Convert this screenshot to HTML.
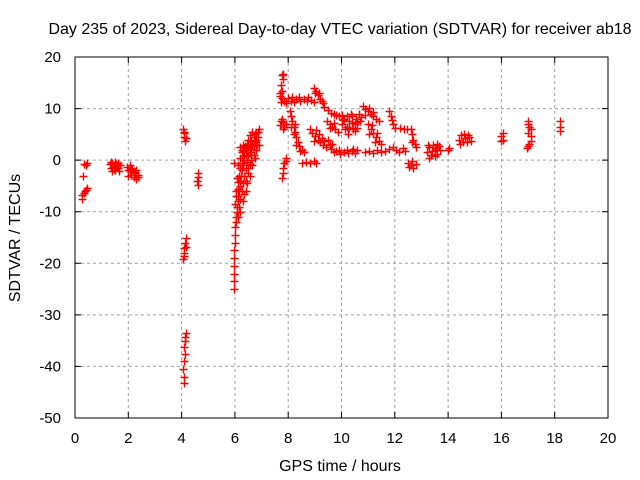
<!DOCTYPE html>
<html><head><meta charset="utf-8"><style>
body{margin:0;background:#fff}
svg{display:block;font-family:"Liberation Sans",sans-serif}
</style></head><body>
<svg id="chart" width="640" height="480">
<rect width="640" height="480" fill="#fff"/>
<text x="340" y="34" text-anchor="middle" font-size="16">Day 235 of 2023, Sidereal Day-to-day VTEC variation (SDTVAR) for receiver ab18</text>
<text x="340" y="471" text-anchor="middle" font-size="16">GPS time / hours</text>
<text transform="translate(20,238) rotate(-90)" text-anchor="middle" font-size="16">SDTVAR / TECUs</text>
<g id="grid"></g><g id="marks"></g>
<rect x="75" y="57" width="533" height="361" fill="none" stroke="#000" stroke-width="1"/>
</svg>
<script>
const xTicks=[0,2,4,6,8,10,12,14,16,18,20];
const yTicks=[20,10,0,-10,-20,-30,-40,-50];
const points=[
[0.35,-0.8],[0.42,-1],[0.45,-0.6],[0.3,-3],
[0.25,-7.5],[0.28,-6.8],[0.32,-6.3],[0.36,-6],[0.4,-5.7],[0.45,-5.4],
[1.3,-0.8],[1.35,-1.5],[1.4,-0.5],[1.45,-1.2],[1.5,-2],[1.55,-0.8],[1.6,-1.5],[1.65,-2.2],[1.4,-2.2],[1.5,-0.3],[1.7,-1],[1.35,-0.3],[1.45,-1.8],[1.6,-0.6],[1.55,-1.4],
[1.95,-1.3],[2.0,-2],[2.05,-1],[2.1,-2.8],[2.15,-1.8],[2.2,-3.2],[2.25,-2.3],[2.3,-3.6],[2.35,-2.8],[2.1,-1.5],[2.0,-3],[2.3,-1.9],[2.2,-2.5],[2.35,-3.3],[2.05,-2.2],
[4.05,6],[4.08,5.2],[4.1,4.5],[4.12,3.8],[4.15,4.2],[4.1,5.5],
[4.15,-15],[4.12,-16],[4.1,-17],[4.08,-18],[4.05,-19.2],[4.15,-16.8],[4.1,-18.6],
[4.15,-33.5],[4.12,-35],[4.1,-36.2],[4.12,-37.5],[4.08,-39],[4.05,-40.5],[4.08,-42],[4.1,-43.3],[4.14,-34.2],
[4.6,-2.5],[4.62,-3.3],[4.58,-4],[4.6,-4.8],
[5.95,-0.5],
[5.95,-25],[5.95,-23.5],[5.95,-22],[5.96,-20.5],[5.97,-19],[5.98,-17.5],[6.0,-16],[6.0,-14.5],[6.02,-13],[6.03,-12],[6.05,-11],[6.07,-10],[6.08,-9],[6.1,-8],[6.12,-7],[6.15,-6],[6.18,-5],[6.2,-4],[6.22,-3],[6.26,-2],[6.3,-1],[6.35,0],[6.4,1],[6.45,2],[6.5,2.5],[6.55,3.2],[6.6,3.8],[6.7,4.5],[6.8,5.2],[6.9,6],
[6.02,-8.5],[6.06,-7],[6.1,-5.5],[6.12,-4.3],[6.15,-3],[6.2,-1.6],[6.25,-0.5],[6.3,0.8],[6.35,1.8],[6.4,2.5],[6.25,2],[6.3,3],[6.2,2.5],[6.45,3.2],[6.15,-9],[6.2,-7.5],[6.25,-6],[6.3,-4.5],[6.35,-3],[6.4,-1.5],[6.45,-0.3],[6.5,0.8],[6.55,1.5],[6.6,2.2],[6.65,3],[6.75,3.6],[6.85,4.5],[6.5,-1.5],[6.6,0],[6.7,1],[6.8,2],[6.9,3],[6.1,-11],[6.2,-10],[6.3,-8],[6.4,-6],[6.45,-4.5],[6.55,-3],[6.65,-1],[6.75,0.5],
[6.05,-6],[6.08,-3.5],[6.12,-1],[6.18,0.5],[6.35,-6.5],[6.42,-4],[6.5,-2.5],[6.58,-0.8],[6.62,1],[6.7,2.8],[6.78,4],[6.85,5.5],[6.28,1.5],[6.38,2.8],[6.48,4],[6.55,4.8],[6.65,5.5],[6.75,5],[6.82,3],
[7.75,16.5],[7.8,15.8],[7.72,14.5],[7.75,13.5],[7.7,12.5],[7.78,12],[7.85,11.5],[7.9,11],[7.72,11.2],[7.8,16.8],[7.68,13],
[7.75,8],[7.8,7.3],[7.7,6.8],[7.85,6.5],[7.8,6],[7.9,7],[7.72,7.6],
[7.9,0.5],[7.85,-0.5],[7.82,-1.5],[7.8,-2.5],[7.78,-3.5],[7.9,-0.2],
[8.0,12],[8.15,12.3],[8.3,11.8],[8.45,11.5],[8.6,11.9],[8.75,12.2],[8.85,11.6],[8.95,11.3],[8.2,11.2],[8.1,11.5],[8.4,12.2],[8.7,11.4],
[8.05,9.5],[8.1,8.5],[8.15,7.5],[8.2,6.5],[8.25,5.5],[8.3,4.5],[8.35,3.5],[8.4,2.8],[8.5,2],[8.6,1.5],[8.1,6.5],[8.2,5],[8.3,3],[8.45,1.8],[8.25,7],
[8.5,-0.5],[8.65,-0.3],[8.8,-0.6],[8.95,-0.2],[9.05,-0.5],
[8.95,14],[9.05,13.5],[9.1,12.6],[9.2,11.8],[9.3,11],[9.35,10.4],[9.0,13],[9.15,13],[9.25,11.4],
[8.8,6],[8.9,5.3],[9.0,4.7],[9.1,4],[9.2,3.5],[9.3,3],[9.4,2.5],[8.95,3.8],[9.15,5],[9.05,5.8],[9.25,4.3],[9.35,3.8],
[9.45,7.5],[9.55,7],[9.65,6.5],[9.75,6],[9.85,5.5],[9.5,9.8],[9.6,9.2],[9.7,9],[9.8,8.8],[9.9,8.5],[10.0,8.7],[9.55,6.3],[9.7,7.2],
[9.5,4],[9.55,3],[9.6,2.2],[9.7,1.5],[9.8,1.8],[9.95,1.2],[10.1,1.6],[10.25,1.3],[10.4,1.8],[10.5,1.4],[10.6,1.9],[9.65,3.2],[9.9,2],[10.2,2],[10.45,2.2],
[10.0,7],[10.1,8],[10.2,6.5],[10.3,7.5],[10.4,8.5],[10.5,7],[10.6,6.2],[10.15,6],[10.35,9],[10.45,6],[10.55,8],[10.25,5],[10.7,7.5],[10.65,9],[10.75,8.3],[10.05,7.8],[10.3,6.3],[10.5,5.6],[10.6,7.4],[10.2,8.6],[10.4,7.2],
[10.8,10.5],[10.9,10],[11.0,9.5],[11.1,9],[11.2,8.5],[11.3,8],[11.4,7.5],[10.9,8.8],[11.05,10.2],[11.2,9.4],
[11.0,7],[11.1,6],[11.2,5.3],[11.3,4.5],[11.4,3.8],[11.5,3.2],[11.05,5],[11.25,3.5],[11.15,6.8],[11.35,5.2],
[10.9,1.5],[11.05,1.8],[11.2,1.4],[11.35,1.9],[11.5,1.5],[11.65,1.7],
[11.8,9.5],[11.85,8.5],[11.9,7.8],[11.95,7],[12.0,6.3],[12.2,6.2],[12.35,6],[12.45,6.1],
[11.8,2.2],[11.95,2.5],[12.05,2],[12.15,1.5],[12.3,2.4],[12.4,1.8],
[12.6,6],[12.65,5],[12.7,4],[12.75,3.2],[12.8,2.5],[12.65,3.6],
[12.5,-0.5],[12.6,-1],[12.7,-1.5],[12.8,-0.8],[12.65,-0.2],[12.55,-1.3],
[13.2,1.5],[13.3,2.5],[13.35,1],[13.45,3],[13.5,2],[13.6,1.2],[13.65,2.8],[13.4,1.8],[13.55,2.4],[13.7,2],[13.25,3],[13.5,0.8],[13.6,3.2],[13.3,0.5],
[14.0,2],[14.05,2.3],
[14.4,4],[14.5,4.8],[14.55,3.5],[14.65,4.2],[14.75,4.8],[14.85,3.8],[14.6,5],[14.45,3.2],[14.7,3.6],[14.8,4.4],
[16.0,4.6],[16.05,4],[16.0,3.8],[16.05,5.2],
[17.0,7.5],[17.05,6.5],[17.1,6],[17.0,5.2],[17.1,4.6],[17.05,3.2],[16.95,2.3],[17.1,3.8],[17.0,2.8],[17.0,7],
[18.2,7.5],[18.2,6.5],[18.2,5.7]
];
const X0=75,X1=608,Y0=418,Y1=57;
const xs=v=>X0+(v-0)/(20-0)*(X1-X0);
const ys=v=>Y0-(v-(-50))/(20-(-50))*(Y0-Y1);
const NS='http://www.w3.org/2000/svg';
const grid=document.getElementById('grid'),marks=document.getElementById('marks');
function mk(t,a){const e=document.createElementNS(NS,t);for(const k in a)e.setAttribute(k,a[k]);return e;}
xTicks.forEach(t=>{
  const x=xs(t);
  if(t>0&&t<20){const g=mk('line',{x1:x,x2:x,y1:Y1,y2:Y0,stroke:'#a0a0a0','stroke-dasharray':'3,3'});
  
  grid.appendChild(g);}
  const tk=mk('path',{d:`M${x},${Y0}v-6M${x},${Y1}v6`,stroke:'#000'});
  
  grid.appendChild(tk);
  const l=mk('text',{x:x,y:443,'text-anchor':'middle','font-size':15});l.textContent=t;
  
  grid.appendChild(l);
});
yTicks.forEach(t=>{
  const y=ys(t);
  if(t<20&&t>-50){const g=mk('line',{x1:X0,x2:X1,y1:y,y2:y,stroke:'#a0a0a0','stroke-dasharray':'3,3'});
  
  grid.appendChild(g);}
  const tk=mk('path',{d:`M${X0},${y}h6M${X1},${y}h-6`,stroke:'#000'});
  
  grid.appendChild(tk);
  const l=mk('text',{x:61,y:y+5,'text-anchor':'end','font-size':15});l.textContent=t;
  
  grid.appendChild(l);
});
points.forEach(p=>{
  const x=Math.round(xs(p[0]))+0.5,y=Math.round(ys(p[1]))+0.5;
  const m=mk('path',{d:`M${x-4},${y}h8M${x},${y-4}v8`,stroke:'#ff0000','stroke-width':1.4});
  
  
  marks.appendChild(m);
});
</script>
</body></html>
